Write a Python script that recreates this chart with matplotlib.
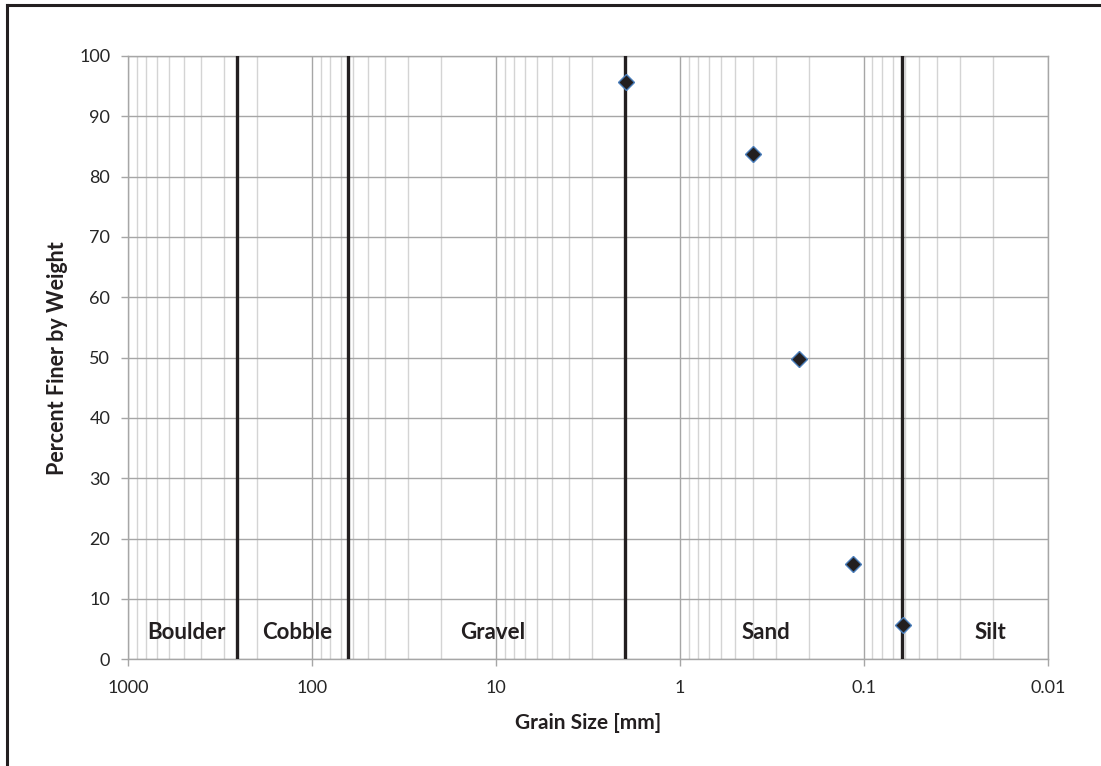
import numpy as np
import matplotlib.pyplot as plt
from matplotlib.lines import Line2D
from matplotlib.ticker import LogLocator, NullFormatter, FixedLocator, FixedFormatter

plt.rcParams['font.family'] = ['Lato', 'DejaVu Sans']

# sieve data
grain_size = [1.96, 0.40, 0.227, 0.115, 0.0614]
percent_finer = [95.7, 83.8, 49.8, 15.8, 5.7]

# class boundaries [mm]
boundaries = [256, 64, 2, 0.0625]
class_names = ['Boulder', 'Cobble', 'Gravel', 'Sand', 'Silt']
class_label_x = [480, 121, 10.5, 0.34, 0.0205]

x_ticks = [1000, 100, 10, 1, 0.1, 0.01]
x_tick_labels = ['1000', '100', '10', '1', '0.1', '0.01']
y_ticks = list(range(0, 101, 10))

W, H = 1101, 766
fig = plt.figure(figsize=(W / 100, H / 100), dpi=100)
ax = fig.add_axes([128.3 / W, 1 - 659.3 / H, (1048 - 128.3) / W, (659.3 - 56) / H])

ax.set_xscale('log')
ax.set_xlim(1000, 0.01)
ax.set_ylim(0, 100)

ax.xaxis.set_major_locator(FixedLocator(x_ticks))
ax.xaxis.set_major_formatter(FixedFormatter(x_tick_labels))
ax.xaxis.set_minor_locator(LogLocator(base=10, subs=np.arange(2, 10), numticks=20))
ax.xaxis.set_minor_formatter(NullFormatter())
ax.set_yticks(y_ticks)

ax.grid(True, which='minor', axis='x', color='#d4d4d4', lw=1.0, zorder=0)
ax.grid(True, which='major', axis='both', color='#a6a6a6', lw=1.0, zorder=0)
ax.set_axisbelow(True)

for s in ax.spines.values():
    s.set_color('#a6a6a6')
    s.set_linewidth(1.0)

ax.tick_params(axis='both', which='major', direction='out', length=5, width=1,
               color='#a6a6a6', labelsize=13, labelcolor='#262626')
ax.tick_params(axis='x', which='major', pad=10)
ax.tick_params(axis='y', which='major', pad=8)
ax.tick_params(axis='x', which='minor', length=0)

for b in boundaries:
    ax.axvline(b, color='#231f20', lw=2.4, zorder=3)

ax.plot(grain_size, percent_finer, ls='none', marker='D', ms=8.5,
        mfc='#231f20', mec='#4a7ebb', mew=1.0, zorder=4)

for name, xl in zip(class_names, class_label_x):
    ax.text(xl, 4.4, name, ha='center', va='center', fontsize=16,
            fontweight='bold', color='#231f20', zorder=5)

ax.set_xlabel('Grain Size [mm]', fontsize=15, fontweight='bold', color='#231f20', labelpad=12)
ax.set_ylabel('Percent Finer by Weight', fontsize=15.5, fontweight='bold', color='#231f20', labelpad=8)

# outer chart border (top and left visible)
fig.add_artist(Line2D([7 / W, 7 / W], [1 - 5 / H, 0], transform=fig.transFigure,
                      color='#231f20', lw=2.2))
fig.add_artist(Line2D([7 / W, 1], [1 - 5 / H, 1 - 5 / H], transform=fig.transFigure,
                      color='#231f20', lw=2.2))

fig.savefig('out.png', dpi=100)
